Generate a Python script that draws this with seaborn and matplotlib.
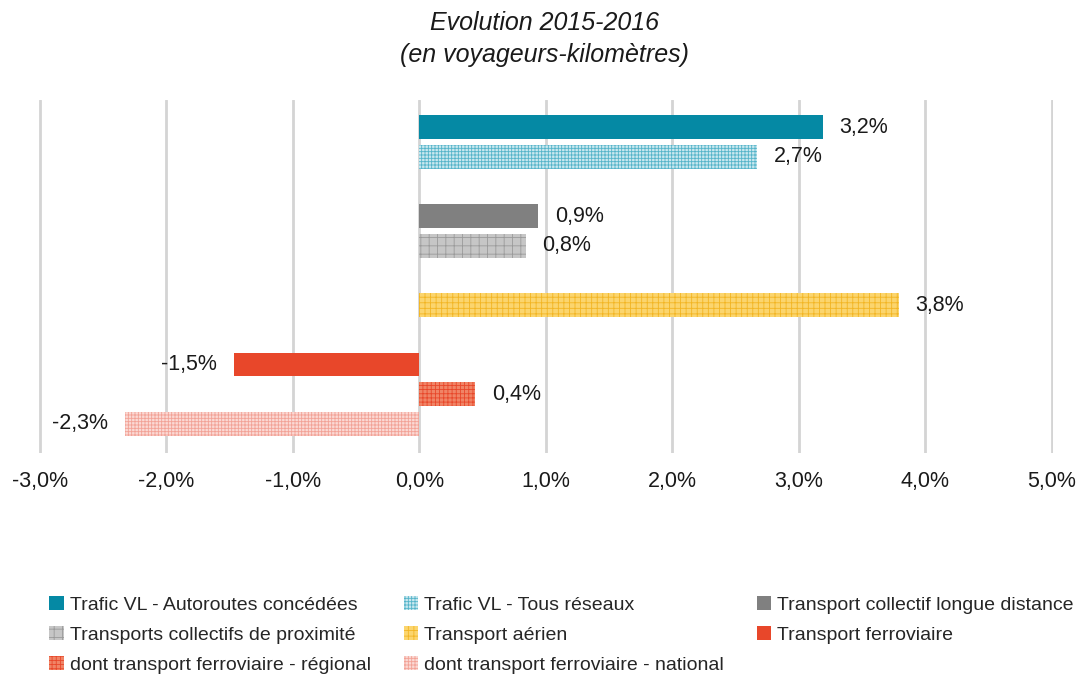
import matplotlib.pyplot as plt
import pandas as pd
import seaborn as sns
from matplotlib.patches import Patch

# data
series = [
    "Trafic VL - Autoroutes concédées",
    "Trafic VL - Tous réseaux",
    "Transport collectif longue distance",
    "Transports collectifs de proximité",
    "Transport aérien",
    "Transport ferroviaire",
    "dont transport ferroviaire - régional",
    "dont transport ferroviaire - national",
]
values = [3.19, 2.67, 0.94, 0.84, 3.79, -1.47, 0.44, -2.33]
# slot on the y axis (blank slots are gaps between groups)
slots = ["s0", "s1", "g1", "s2", "s3", "g2", "s4", "g3", "s5", "s6", "s7"]
bar_slot = ["s0", "s1", "s2", "s3", "s4", "s5", "s6", "s7"]
xticks = [-3, -2, -1, 0, 1, 2, 3, 4, 5]

# styles: face colour, hatch colour, hatch
face_colors = ["#0589A4", "#C9E8EF", "#808080", "#C6C6C6", "#FBD56E", "#E8472A", "#F08466", "#FBD9D4"]
hatch_colors = ["#0589A4", "#55B4C9", "#808080", "#9A9A9A", "#F2B523", "#E8472A", "#E8472A", "#F2A296"]
hatches = [None, "+++++", None, "++", "+++", None, "++++", "+++++"]

df = pd.DataFrame({"slot": bar_slot, "valeur": values, "serie": series})

sns.set_style("white")
plt.rcParams["font.family"] = ["Liberation Sans", "DejaVu Sans"]
plt.rcParams["hatch.linewidth"] = 0.6

fig = plt.figure(figsize=(10.89, 6.77), dpi=100)
ax = fig.add_axes([0.0358, 0.331, 0.931, 0.521])

sns.barplot(
    data=df, x="valeur", y="slot", hue="serie", order=slots, hue_order=series,
    palette=dict(zip(series, face_colors)), dodge=False, width=0.8, orient="h",
    legend=False, ax=ax,
)

handles = []
for i, cont in enumerate(ax.containers):
    for bar in cont:
        bar.set_facecolor(face_colors[i])
        bar.set_linewidth(0)
        if hatches[i]:
            bar.set_hatch(hatches[i])
            bar.set_edgecolor(hatch_colors[i])
    lab = (f"{values[i]:.1f}%").replace(".", ",")
    ax.bar_label(cont, labels=[lab], padding=12, fontsize=15.5, color="#1a1a1a")
    handles.append(Patch(facecolor=face_colors[i], edgecolor=hatch_colors[i] if hatches[i] else face_colors[i],
                         hatch=hatches[i], linewidth=0, label=series[i]))

ax.set_xlim(-3.008, 5.008)
ax.set_ylim(10.98, -0.91)
ax.set_xticks(xticks)
ax.set_xticklabels([f"{t},0%" for t in xticks], fontsize=15.5, color="#1a1a1a")
ax.set_yticks([])
ax.set_xlabel("")
ax.set_ylabel("")
ax.tick_params(axis="x", length=0, pad=13)
ax.grid(axis="x", color="#D4D4D4", linewidth=2)
ax.set_axisbelow(True)
sns.despine(ax=ax, left=True, top=True, right=True, bottom=True)

fig.text(0.5, 0.984, "Evolution 2015-2016\n(en voyageurs-kilomètres)", ha="center", va="top",
         fontsize=18, style="italic", linespacing=1.45, color="#1a1a1a")

order = [0, 3, 6, 1, 4, 7, 2, 5]
ax.legend([handles[k] for k in order], [series[k] for k in order], ncol=3,
          loc="upper left", bbox_to_anchor=(0.01, -0.405), frameon=False, fontsize=14,
          handlelength=0.75, handleheight=0.75, handletextpad=0.3, columnspacing=1.7,
          labelspacing=0.63, borderaxespad=0, borderpad=0)

plt.savefig("out.png", dpi=100)
